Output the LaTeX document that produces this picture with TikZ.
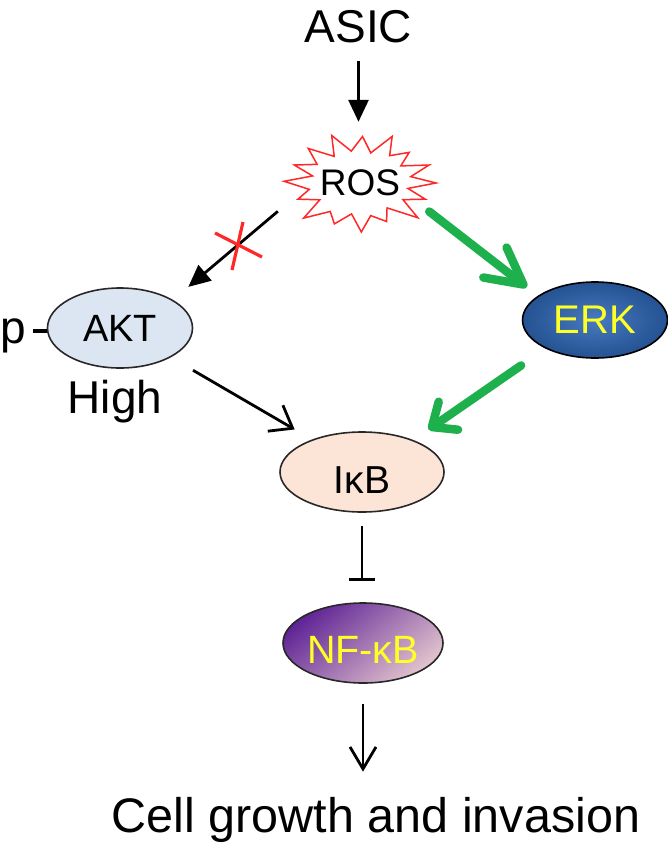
\documentclass[tikz,border=0pt]{standalone}
\usepackage{fontspec}
\setmainfont{Liberation Sans}
\usetikzlibrary{arrows.meta,shapes.geometric,calc}
\definecolor{agreen}{RGB}{30,176,76}
\definecolor{burstred}{RGB}{255,40,40}
\definecolor{aktfill}{RGB}{220,230,242}
\definecolor{ikbfill}{RGB}{252,229,214}
\definecolor{erkin}{RGB}{72,122,192}
\definecolor{erkout}{RGB}{36,82,146}
\definecolor{nfdark}{RGB}{96,36,150}
\definecolor{nfmid}{RGB}{140,80,180}
\definecolor{nflight}{RGB}{225,195,205}
\definecolor{ylw}{RGB}{255,255,40}
\definecolor{edge}{RGB}{40,40,40}
\begin{document}
\begin{tikzpicture}[x=1bp,y=-1bp,
  lbl/.style={inner sep=0, anchor=base, font=\fontsize{46bp}{50bp}\selectfont},
  oval/.style={ellipse, draw=edge, line width=1.6bp, inner sep=0},
  blk/.style={line width=2.8bp, draw=black},
  grn/.style={line width=8.5bp, draw=agreen, line cap=round},
  burst/.style={draw=burstred, line width=1.5bp, line join=miter},
  cross/.style={draw=burstred, line width=3.2bp}
]
\useasboundingbox (0,0) rectangle (668,847);

% nodes
\node[lbl] (asic) at (358.5,42) {ASIC};
\node[rectangle, inner sep=0, minimum width=152bp, minimum height=98bp,
      font=\fontsize{37bp}{40bp}\selectfont] (ros) at (360,183) {ROS};
\node[oval, fill=aktfill, minimum width=145bp, minimum height=80bp,
      font=\fontsize{38bp}{42bp}\selectfont] (akt) at (120,328) {AKT};
\node[lbl] (p) at (13,343) {p};
\node[lbl] (high) at (115,413) {High};
\node[oval, draw=black, inner color=erkin, outer color=erkout, text=ylw,
      minimum width=145bp, minimum height=76bp,
      font=\fontsize{40bp}{44bp}\selectfont] (erk) at (595,320) {ERK};
\node[oval, fill=ikbfill, minimum width=164bp, minimum height=80bp,
      text height=42bp, text depth=0bp,
      font=\fontsize{39bp}{44bp}\selectfont] (ikb) at (362,472) {Iκ\kern0.5bp B};
\node[oval, top color=nfdark, middle color=nfmid, bottom color=nflight, shading angle=40, text=ylw,
      minimum width=160bp, minimum height=80bp,
      text height=40bp, text depth=0bp,
      font=\fontsize{39.5bp}{44bp}\selectfont] (nfkb) at (363,643) {NF-κB};
\node[lbl, font=\fontsize{48.5bp}{52bp}\selectfont] (cell) at (376,832) {Cell growth and invasion};

% starburst around ROS
\begin{scope}[shift={(ros.center)}]
\draw[burst] (0:76 and 49)
  \foreach \a/\f in {10/0.64, 21/0.92, 31/0.66, 43/1.04, 55/0.62, 66/0.86, 78/0.68,
                     89/1.0, 100/0.64, 112/0.9, 124/0.7, 136/1.03, 147/0.63, 158/0.88, 169/0.68,
                     182/1.0, 193/0.64, 203/0.94, 214/0.68, 226/0.98, 238/0.64, 249/1.04, 260/0.66,
                     272/0.95, 283/0.63, 294/1.04, 305/0.68, 316/0.9, 327/0.64, 338/0.98, 349/0.68}
  { -- ({\f*76*cos(\a)},{\f*49*sin(\a)}) } -- cycle;
\end{scope}

% connectors
\draw[blk, -{Triangle[length=22bp,width=20bp]}, shorten <=18bp, shorten >=12bp]
  (asic.south) -- (asic.south |- ros.north);
\draw[blk, -{Triangle[length=22bp,width=20bp]}, shorten <=7.8bp, shorten >=20bp]
  (ros.197.5) -- (akt.28.7);
\draw[grn, -{Straight Barb[length=36bp,width=38bp,round]}, shorten <=-8.8bp, shorten >=14bp]
  (ros.-24.9) -- (erk.157.5);
\draw[grn, -{Straight Barb[length=20bp,width=34bp,round]}, shorten <=29.6bp, shorten >=18.4bp]
  (erk.210.5) -- (ikb.32.6);
\draw[blk, -{Straight Barb[length=20bp,width=30bp]}, shorten <=25.6bp, shorten >=20bp]
  (akt.-30) -- (ikb.147.4);
\draw[blk, -{Bar[width=26bp]}, shorten <=13bp, shorten >=21bp]
  (ikb.south) -- (ikb.south |- nfkb.north);
\draw[blk, -{Straight Barb[length=22bp,width=26bp]}, shorten <=20bp, shorten >=25bp]
  (nfkb.south) -- (nfkb.south |- cell.north);
\draw[line width=4bp, shorten <=7bp]
  ([yshift=4bp]p.east) -- ([yshift=4bp]p.east -| akt.west);

% red cross on ROS -> AKT
\coordinate (xm) at (237.8,244.6);
\draw[cross] ([shift={(-22.8,-11.6)}]xm) -- ([shift={(24.2,12.4)}]xm);
\draw[cross] ([shift={(5.2,-22.6)}]xm) -- ([shift={(-5.8,25.4)}]xm);
\end{tikzpicture}
\end{document}
